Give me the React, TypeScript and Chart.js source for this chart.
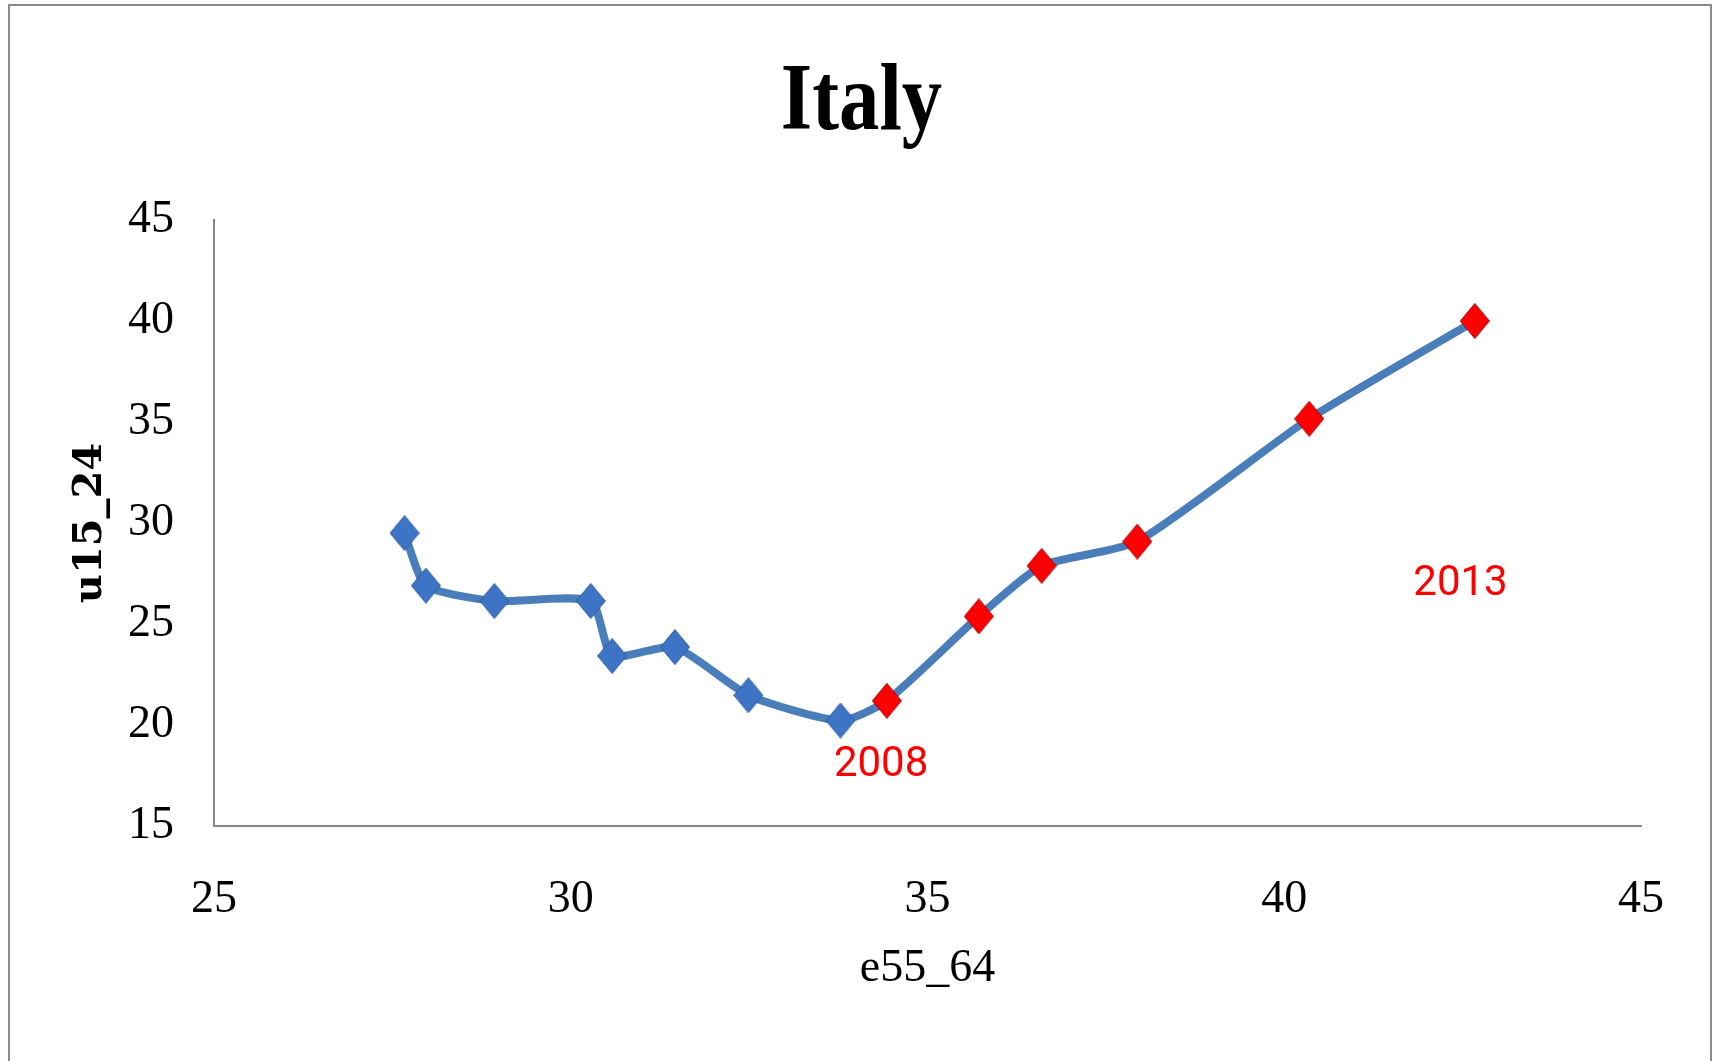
import React, { useEffect, useRef } from "react";
import { Chart, registerables } from "chart.js";

Chart.register(...registerables);

const chartTitle = "Italy";
const years = [2000, 2001, 2002, 2003, 2004, 2005, 2006, 2007, 2008, 2009, 2010, 2011, 2012, 2013];
const e55_64 = [27.67, 27.97, 28.93, 30.28, 30.58, 31.46, 32.49, 33.78, 34.43, 35.72, 36.6, 37.94, 40.35, 42.67];
const u15_24 = [29.5, 26.9, 26.14, 26.14, 23.42, 23.86, 21.47, 20.22, 21.2, 25.38, 27.88, 29.08, 35.16, 40.0];

const annotationTexts = ["2008", "2013"];
const annotationX = [34.35, 42.47];
const annotationY = [17.99, 26.96];

const xTicks = [25, 30, 35, 40, 45];
const yTicks = [15, 20, 25, 30, 35, 40, 45];

function makeDiamond(fill: string, edge: string, w: number, h: number) {
  const c = document.createElement("canvas");
  c.width = w;
  c.height = h;
  const ctx = c.getContext("2d")!;
  ctx.beginPath();
  ctx.moveTo(w / 2, 0.5);
  ctx.lineTo(w - 0.5, h / 2);
  ctx.lineTo(w / 2, h - 0.5);
  ctx.lineTo(0.5, h / 2);
  ctx.closePath();
  ctx.fillStyle = fill;
  ctx.fill();
  ctx.lineWidth = 1;
  ctx.strokeStyle = edge;
  ctx.stroke();
  return c;
}

export default function App() {
  const ref = useRef<HTMLCanvasElement | null>(null);

  useEffect(() => {
    if (!ref.current) return;
    const blue = makeDiamond("#3d74c6", "#2e5c9e", 30, 36);
    const red = makeDiamond("#ff0000", "#a00000", 30, 36);

    const labelPlugin = {
      id: "yearLabels",
      afterDatasetsDraw(chart: any) {
        const { ctx, scales } = chart;
        ctx.save();
        ctx.fillStyle = "#ff0000";
        ctx.font = "42px Roboto";
        ctx.textAlign = "center";
        ctx.textBaseline = "middle";
        annotationTexts.forEach((t, i) => {
          ctx.fillText(t, scales.x.getPixelForValue(annotationX[i]), scales.y.getPixelForValue(annotationY[i]));
        });
        ctx.restore();
      },
    };

    const titlePlugin = {
      id: "condensedTitle",
      afterDraw(chart: any) {
        const { ctx } = chart;
        ctx.save();
        ctx.translate(chart.width / 2, 104);
        ctx.scale(0.84, 1);
        ctx.fillStyle = "#000";
        ctx.font = "bold 96px 'Liberation Serif'";
        ctx.textAlign = "center";
        ctx.textBaseline = "middle";
        ctx.fillText(chartTitle, 0, 0);
        ctx.restore();
      },
    };

    const chart = new Chart(ref.current, {
      type: "line",
      data: {
        datasets: [
          {
            data: e55_64.map((x, i) => ({ x, y: u15_24[i] })),
            borderColor: "#4a7ebb",
            borderWidth: 8,
            tension: 0.2,
            pointStyle: years.map((y) => (y >= 2008 ? red : blue)) as any,
            pointRadius: 15,
            pointHoverRadius: 15,
          },
        ],
      },
      options: {
        animation: false,
        responsive: false,
        layout: { padding: { left: 0, right: 82, top: 220, bottom: 0 } },
        plugins: {
          legend: { display: false },
          tooltip: { enabled: false },
          title: { display: false },
        },
        scales: {
          x: {
            type: "linear",
            min: 25,
            max: 45,
            afterBuildTicks: (s: any) => {
              s.ticks = xTicks.map((v) => ({ value: v }));
            },
            afterFit: (s: any) => {
              s.height = 1061 - 826;
            },
            grid: { display: false, drawTicks: false },
            border: { display: true, color: "#868686", width: 2 },
            ticks: {
              color: "#000",
              padding: 46,
              font: { family: "Liberation Serif", size: 46 },
              maxRotation: 0,
            },
            title: {
              display: true,
              text: "e55_64",
              color: "#000",
              font: { family: "Liberation Serif", size: 46 },
              padding: { top: 0, bottom: 64 },
            },
          },
          y: {
            type: "linear",
            min: 15,
            max: 45,
            afterBuildTicks: (s: any) => {
              s.ticks = yTicks.map((v) => ({ value: v }));
            },
            afterFit: (s: any) => {
              s.width = 214;
            },
            grid: { display: false, drawTicks: false },
            border: { display: true, color: "#868686", width: 2 },
            ticks: {
              color: "#000",
              padding: 40,
              font: { family: "Liberation Serif", size: 46 },
            },
            title: {
              display: true,
              text: "u15_24",
              color: "#000",
              font: { family: "DejaVu Serif", size: 40, weight: "bold" },
              padding: { top: 67, bottom: 0 },
            },
          },
        },
      },
      plugins: [labelPlugin, titlePlugin],
    } as any);
    return () => chart.destroy();
  }, []);

  return (
    <div style={{ position: "fixed", left: 0, top: 0, width: 1723, height: 1061, background: "#fff" }}>
      <canvas ref={ref} width={1723} height={1061} style={{ position: "absolute", left: 0, top: 0 }} />
      <div
        style={{
          position: "absolute",
          left: 8,
          top: 4,
          width: 1704,
          height: 1070,
          border: "2px solid #8a8a8a",
          boxSizing: "border-box",
          pointerEvents: "none",
        }}
      />
    </div>
  );
}
